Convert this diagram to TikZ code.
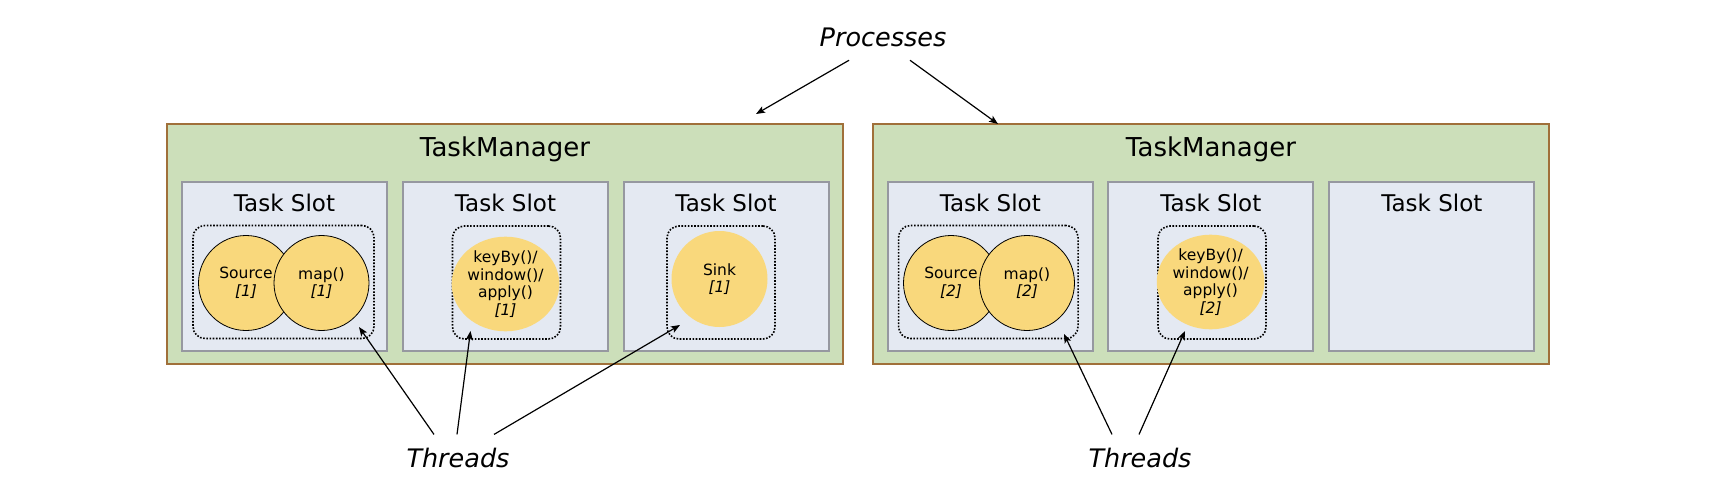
\documentclass[tikz,border=0pt]{standalone}
\usepackage{fontspec}
\setmainfont{DejaVu Sans}
\usetikzlibrary{arrows.meta, positioning, shapes.geometric}

\definecolor{tmgreen}{RGB}{204,223,186}
\definecolor{tmbrown}{RGB}{160,112,58}
\definecolor{slotblue}{RGB}{228,233,242}
\definecolor{slotgray}{RGB}{150,152,160}
\definecolor{opyellow}{RGB}{249,216,124}

\begin{document}
\begin{tikzpicture}[x=1pt, y=-1pt,
    tm/.style={draw=tmbrown, fill=tmgreen, line width=1.8pt, minimum width=676pt, minimum height=240pt, inner sep=0pt},
    slot/.style={draw=slotgray, fill=slotblue, line width=2pt, minimum width=205pt, minimum height=169pt, inner sep=0pt},
    grp/.style={draw, line width=1.6pt, dash pattern=on 1.6pt off 1.6pt, rounded corners=12pt, minimum height=113pt, inner sep=0pt},
    op/.style={ellipse, fill=opyellow, minimum width=95pt, minimum height=95pt, inner sep=0pt, align=center, font=\fontsize{15.5}{17.7}\selectfont},
    lbl/.style={font=\fontsize{25.5}{30}\selectfont\itshape, inner sep=13pt},
    arr/.style={-{Stealth[length=9pt,width=7pt,inset=2pt]}, line width=1.2pt}]
    \useasboundingbox (0,0) rectangle (1732,490);

    % two task managers
    \node[tm] (tmA) at (505,244) {};
    \node[tm] (tmB) at (1211,244) {};
    \node[anchor=base, font=\fontsize{26}{30}\selectfont] (tmAname) at (505,156) {TaskManager};
    \node[anchor=base, font=\fontsize{26}{30}\selectfont] (tmBname) at (1211,156) {TaskManager};

    % slots
    \node[slot] (slotA1) at (284.5,266.5) {};
    \node[slot] (slotA2) at (505.5,266.5) {};
    \node[slot] (slotA3) at (726,266.5) {};
    \node[slot] (slotB1) at (990.3,266.5) {};
    \node[slot] (slotB2) at (1210.8,266.5) {};
    \node[slot] (slotB3) at (1431.8,266.5) {};
    \node[anchor=base, font=\fontsize{23}{26}\selectfont] at (284.5,211.7) {Task Slot};
    \node[anchor=base, font=\fontsize{23}{26}\selectfont] at (505.5,211.7) {Task Slot};
    \node[anchor=base, font=\fontsize{23}{26}\selectfont] at (726,211.7) {Task Slot};
    \node[anchor=base, font=\fontsize{23}{26}\selectfont] at (990.3,211.7) {Task Slot};
    \node[anchor=base, font=\fontsize{23}{26}\selectfont] at (1210.8,211.7) {Task Slot};
    \node[anchor=base, font=\fontsize{23}{26}\selectfont] at (1431.8,211.7) {Task Slot};

    % threads (dotted groups)
    \node[grp, minimum width=181pt] (grpA1) at (283.5,282) {};
    \node[grp, minimum width=108pt] (grpA2) at (506.5,282.5) {};
    \node[grp, minimum width=108pt] (grpA3) at (721,282.5) {};
    \node[grp, minimum width=179.5pt] (grpB1) at (988.3,282) {};
    \node[grp, minimum width=108pt] (grpB2) at (1212,282.5) {};

    % operators
    \node[op, draw, line width=0.8pt] (srcA) at (246,283) {Source\\\textit{[1]}};
    \node[op, draw, line width=0.8pt] (mapA) at (321.5,283) {map()\\\textit{[1]}};
    \node[op, minimum height=92pt] (keyA) at (505.5,284) {keyBy()/\\window()/\\apply()\\\textit{[1]}};
    \node[op, minimum width=96pt, minimum height=96pt] (sinkA) at (719.5,279) {Sink\\\textit{[1]}};
    \node[op, draw, line width=0.8pt] (srcB) at (951,283) {Source\\\textit{[2]}};
    \node[op, draw, line width=0.8pt] (mapB) at (1027,283) {map()\\\textit{[2]}};
    \node[op, minimum height=92pt] (keyB) at (1210.6,282) {keyBy()/\\window()/\\apply()\\\textit{[2]}};

    % labels
    \node[lbl, anchor=base] (proc) at (883,46.7) {Processes};
    \node[lbl, anchor=base] (thrA) at (458,467) {Threads};
    \node[lbl, anchor=base] (thrB) at (1140,467) {Threads};

    \coordinate (pA) at (756,114);
    \coordinate (pB) at (998,124);
    \coordinate (tA1) at (359,327);
    \coordinate (tA2) at (470.5,331);
    \coordinate (tA3) at (680,325);
    \coordinate (tB1) at (1064,334);
    \coordinate (tB2) at (1185,331);

    \draw[arr] ([xshift=-34pt]proc.south) -- (pA);
    \draw[arr] ([xshift=27pt]proc.south) -- (pB);
    \draw[arr] ([xshift=-24pt]thrA.north) -- (tA1);
    \draw[arr] ([xshift=-1pt]thrA.north) -- (tA2);
    \draw[arr] ([xshift=36pt]thrA.north) -- (tA3);
    \draw[arr] ([xshift=-28pt]thrB.north) -- (tB1);
    \draw[arr] ([xshift=-1pt]thrB.north) -- (tB2);
  \end{tikzpicture}
\end{document}
